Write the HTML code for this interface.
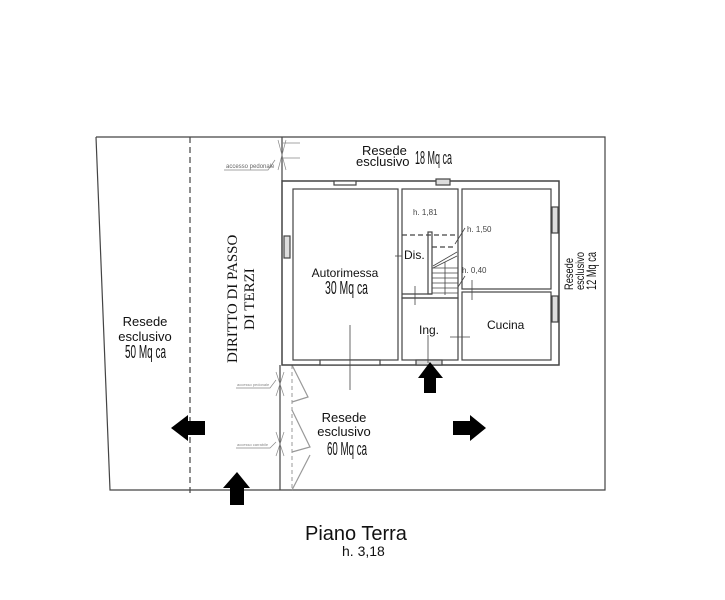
<!DOCTYPE html>
<html><head><meta charset="utf-8"><style>
html,body{margin:0;padding:0;background:#fff}
svg{display:block}
.s{font-family:"Liberation Sans",sans-serif;fill:#111}
.n{font-family:"Liberation Sans",sans-serif;fill:#111}
.r{font-family:"Liberation Serif",serif;fill:#111}
</style></head><body>
<svg width="725" height="600" viewBox="0 0 725 600" xmlns="http://www.w3.org/2000/svg">
<g fill="none" stroke="#444" stroke-width="1.2">
<polyline points="96,137 605,137 605,490 110,490 96,137"/>
<line x1="190" y1="137" x2="190" y2="493" stroke-dasharray="6,4"/>
<line x1="282" y1="137" x2="282" y2="181"/>
<line x1="280" y1="365" x2="280" y2="490"/>
<line x1="292" y1="365" x2="292" y2="490" stroke="#aaa" stroke-dasharray="4,3"/>
<polyline points="292,365 308,397 292,402" stroke="#999"/>
<polyline points="292,410 310,447 292,452" stroke="#999"/>
<polyline points="310,455 292,490" stroke="#999"/>
<rect x="282" y="181" width="277" height="184" stroke-width="1.5"/>
<rect x="293" y="189" width="105" height="171"/>
<rect x="402" y="189" width="56" height="109"/>
<rect x="402" y="298" width="56" height="62"/>
<rect x="462" y="189" width="89" height="100"/>
<rect x="462" y="292" width="89" height="68"/>
<rect x="334" y="181" width="22" height="4" fill="#fff"/>
<rect x="436" y="179" width="14" height="6" fill="#ddd"/>
<rect x="284" y="236" width="6" height="22" fill="#ddd"/>
<rect x="552" y="207" width="6" height="26" fill="#ddd"/>
<rect x="552" y="296" width="6" height="26" fill="#ddd"/>
<rect x="320" y="360" width="60" height="5" fill="#fff"/>
<rect x="416" y="360" width="26" height="5" fill="#ddd"/>
<line x1="402" y1="235" x2="458" y2="235" stroke-dasharray="5,3"/>
<line x1="432" y1="247" x2="455" y2="247" stroke-dasharray="5,3"/>
<rect x="428" y="232" width="4" height="62"/>
<line x1="402" y1="294" x2="432" y2="294"/>
<g stroke-width="0.8">
<line x1="432" y1="268" x2="458" y2="268"/><line x1="432" y1="273" x2="458" y2="273"/>
<line x1="432" y1="278" x2="458" y2="278"/><line x1="432" y1="283" x2="458" y2="283"/>
<line x1="432" y1="288" x2="458" y2="288"/><line x1="432" y1="293" x2="458" y2="293"/>
<line x1="433" y1="266" x2="457" y2="252"/><line x1="433" y1="268" x2="457" y2="256"/>
<line x1="445" y1="262" x2="445" y2="295"/>
<line x1="415" y1="286" x2="415" y2="305"/>
<line x1="455" y1="244" x2="465" y2="228"/>
<line x1="458" y1="287" x2="465" y2="276"/>
<line x1="472" y1="280" x2="472" y2="300"/>
<line x1="450" y1="337" x2="470" y2="337"/>
<line x1="350" y1="325" x2="350" y2="390"/>
<line x1="428" y1="335" x2="428" y2="363"/>
<line x1="395" y1="256" x2="402" y2="256"/>
</g>
<g stroke="#888" stroke-width="0.7">
<line x1="278" y1="140" x2="286" y2="170"/><line x1="286" y1="140" x2="278" y2="170"/>
<line x1="282" y1="158" x2="300" y2="158"/><line x1="282" y1="143" x2="300" y2="143"/>
<polyline points="224,170 268,170 275,160"/>
<polyline points="236,388 270,388 276,380"/>
<polyline points="236,448 270,448 276,442"/>
<line x1="276" y1="372" x2="284" y2="396"/><line x1="284" y1="372" x2="276" y2="396"/>
<line x1="276" y1="432" x2="284" y2="456"/><line x1="284" y1="432" x2="276" y2="456"/>
</g>
</g>
<g fill="#000">
<polygon points="430,362 443,378 436,378 436,393 424,393 424,378 418,378"/>
<polygon points="171,428 188,415 188,421 205,421 205,435 188,435 188,441"/>
<polygon points="486,428 470,415 470,421 453,421 453,435 470,435 470,441"/>
<polygon points="237,472 250,488 244,488 244,505 230,505 230,488 223,488"/>
</g>
<g font-size="6" class="s"><text x="226" y="168" style="fill:#666">accesso pedonale</text>
<text x="237" y="386" style="fill:#888" font-size="4">accesso pedonale</text>
<text x="237" y="446" style="fill:#888" font-size="4">accesso carrabile</text></g>
<text class="s" font-size="13" x="362" y="155">Resede</text>
<text class="s" font-size="13" x="356" y="166">esclusivo</text>
<text class="n" font-size="18" x="415" y="164" textLength="37" lengthAdjust="spacingAndGlyphs">18 Mq ca</text>
<text class="s" font-size="12" x="345" y="277" text-anchor="middle">Autorimessa</text>
<text class="n" font-size="18" x="325" y="294" textLength="43" lengthAdjust="spacingAndGlyphs">30 Mq ca</text>
<text class="s" font-size="8" x="413" y="215" style="fill:#444">h. 1,81</text>
<text class="s" font-size="8" x="467" y="232" style="fill:#444">h. 1,50</text>
<text class="s" font-size="8" x="462" y="273" style="fill:#444">h. 0,40</text>
<text class="s" font-size="12" x="404" y="259">Dis.</text>
<text class="s" font-size="12" x="419" y="334">Ing.</text>
<text class="s" font-size="12" x="487" y="329">Cucina</text>
<g transform="translate(573,290) rotate(-90)"><text class="n" font-size="12" x="0" y="0" textLength="32" lengthAdjust="spacingAndGlyphs">Resede</text></g>
<g transform="translate(584,290) rotate(-90)"><text class="n" font-size="12" x="0" y="0" textLength="38" lengthAdjust="spacingAndGlyphs">esclusivo</text></g>
<g transform="translate(596,290) rotate(-90)"><text class="n" font-size="14" x="0" y="0" textLength="38" lengthAdjust="spacingAndGlyphs">12 Mq ca</text></g>
<g transform="translate(237,363) rotate(-90)"><text class="r" font-size="15" x="0" y="0">DIRITTO DI PASSO</text></g>
<g transform="translate(254,330) rotate(-90)"><text class="r" font-size="15" x="0" y="0">DI TERZI</text></g>
<text class="s" font-size="13" x="145" y="326" text-anchor="middle">Resede</text>
<text class="s" font-size="13" x="145" y="341" text-anchor="middle">esclusivo</text>
<text class="n" font-size="18" x="125" y="358" textLength="41" lengthAdjust="spacingAndGlyphs">50 Mq ca</text>
<text class="s" font-size="13" x="344" y="422" text-anchor="middle">Resede</text>
<text class="s" font-size="13" x="344" y="436" text-anchor="middle">esclusivo</text>
<text class="n" font-size="18" x="327" y="455" textLength="40" lengthAdjust="spacingAndGlyphs">60 Mq ca</text>
<text class="s" font-size="20" x="305" y="540">Piano Terra</text>
<text class="s" font-size="14" x="342" y="556">h. 3,18</text>
</svg>
</body></html>
